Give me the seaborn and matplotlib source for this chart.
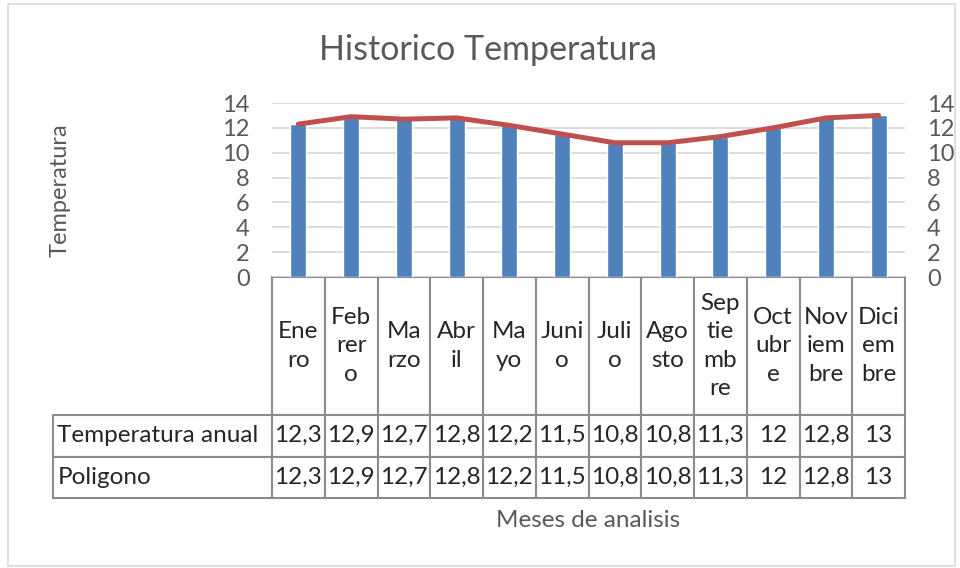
import numpy as np
import pandas as pd
import matplotlib
matplotlib.use('Agg')
import matplotlib.pyplot as plt
import seaborn as sns
from matplotlib.patches import Rectangle

# Datos
meses = ['Enero', 'Febrero', 'Marzo', 'Abril', 'Mayo', 'Junio', 'Julio',
         'Agosto', 'Septiembre', 'Octubre', 'Noviembre', 'Diciembre']
# etiquetas tal como Excel las corta en la tabla
meses_tabla = ['Ene\nro', 'Feb\nrer\no', 'Ma\nrzo', 'Abr\nil', 'Ma\nyo', 'Juni\no',
               'Juli\no', 'Ago\nsto', 'Sep\ntie\nmb\nre', 'Oct\nubr\ne', 'Nov\niem\nbre',
               'Dici\nem\nbre']
temperatura_anual = [12.3, 12.9, 12.7, 12.8, 12.2, 11.5, 10.8, 10.8, 11.3, 12, 12.8, 13]
poligono = [12.3, 12.9, 12.7, 12.8, 12.2, 11.5, 10.8, 10.8, 11.3, 12, 12.8, 13]
series = ['Temperatura anual', 'Poligono']
yticks = [0, 2, 4, 6, 8, 10, 12, 14]

df = pd.DataFrame({'mes': meses, 'temp': temperatura_anual, 'pol': poligono,
                   'pos': np.arange(len(meses))})

sns.set_theme(style='white')
plt.rcParams['font.family'] = ['Lato', 'DejaVu Sans']

W, H = 960, 568
ax_w, ax_h = 633, 174  # tamano del area de trazado en px
fig = plt.figure(figsize=(9.6, 5.68), dpi=100)
ax = fig.add_axes([272 / W, 1 - 277 / H, ax_w / W, ax_h / H])

gris = '#595959'
sns.barplot(data=df, x='pos', y='temp', color='#4F81BD', width=0.3,
            saturation=1, ax=ax, native_scale=True)
ax.set_xlim(-0.5, len(meses) - 0.5)
ax.set_ylim(0, 14)
ax.set_yticks(yticks)
ax.set_xticks([])
ax.grid(axis='y', color='#d9d9d9', linewidth=1.3)
ax.set_axisbelow(True)
for s in ax.spines.values():
    s.set_visible(False)
ax.tick_params(axis='y', length=0, pad=16, labelsize=17, labelcolor=gris)

ax2 = ax.twinx()
sns.lineplot(data=df, x='pos', y='pol', color='#C0504D', linewidth=3.6,
             ax=ax2, solid_capstyle='round', solid_joinstyle='round')
ax2.set_ylim(0, 14)
ax2.set_yticks(yticks)
ax2.set_xlim(-0.5, len(meses) - 0.5)
ax2.set_ylabel('')
for s in ax2.spines.values():
    s.set_visible(False)
ax2.tick_params(axis='y', length=0, pad=16, labelsize=17, labelcolor=gris)

ax.set_ylabel('Temperatura', fontsize=17, color=gris)
ax.yaxis.set_label_coords(-0.318, 0.5)
ax.set_xlabel('Meses de analisis', fontsize=17.5, color=gris)
ax.xaxis.set_label_coords(0.5, -1.34)

# tabla de datos
def fmt(v):
    return ('%g' % v).replace('.', ',')

celdas = [[fmt(v) for v in temperatura_anual], [fmt(v) for v in poligono]]
tabla = ax.table(cellText=celdas, rowLabels=series, colLabels=meses_tabla,
                 cellLoc='center', rowLoc='left',
                 bbox=[0, -221 / ax_h, 1, 221 / ax_h])
tabla._autoColumns = []  # ancho fijo para la columna de nombres
tabla.auto_set_font_size(False)
tabla.set_fontsize(17.5)
for (r, c), cell in tabla.get_celld().items():
    cell.set_edgecolor('#8c8c8c')
    cell.set_linewidth(1.5)
    cell.set_width((219 if c == -1 else ax_w / len(meses)) / ax_w)
    cell.set_height((138 if r == 0 else 41.5) / ax_h)
    cell.get_text().set_linespacing(1.45)
    if c == -1:
        cell.PAD = 0.02

fig.text(488 / W, 1 - 50 / H, 'Historico Temperatura', ha='center', va='center',
         fontsize=24.5, color=gris)

fig.patches.append(Rectangle((8 / W, 1 - 566 / H), 947 / W, 562 / H,
                             transform=fig.transFigure, fill=False,
                             edgecolor='#d9d9d9', linewidth=1.2))

fig.savefig('out.png', dpi=100)
